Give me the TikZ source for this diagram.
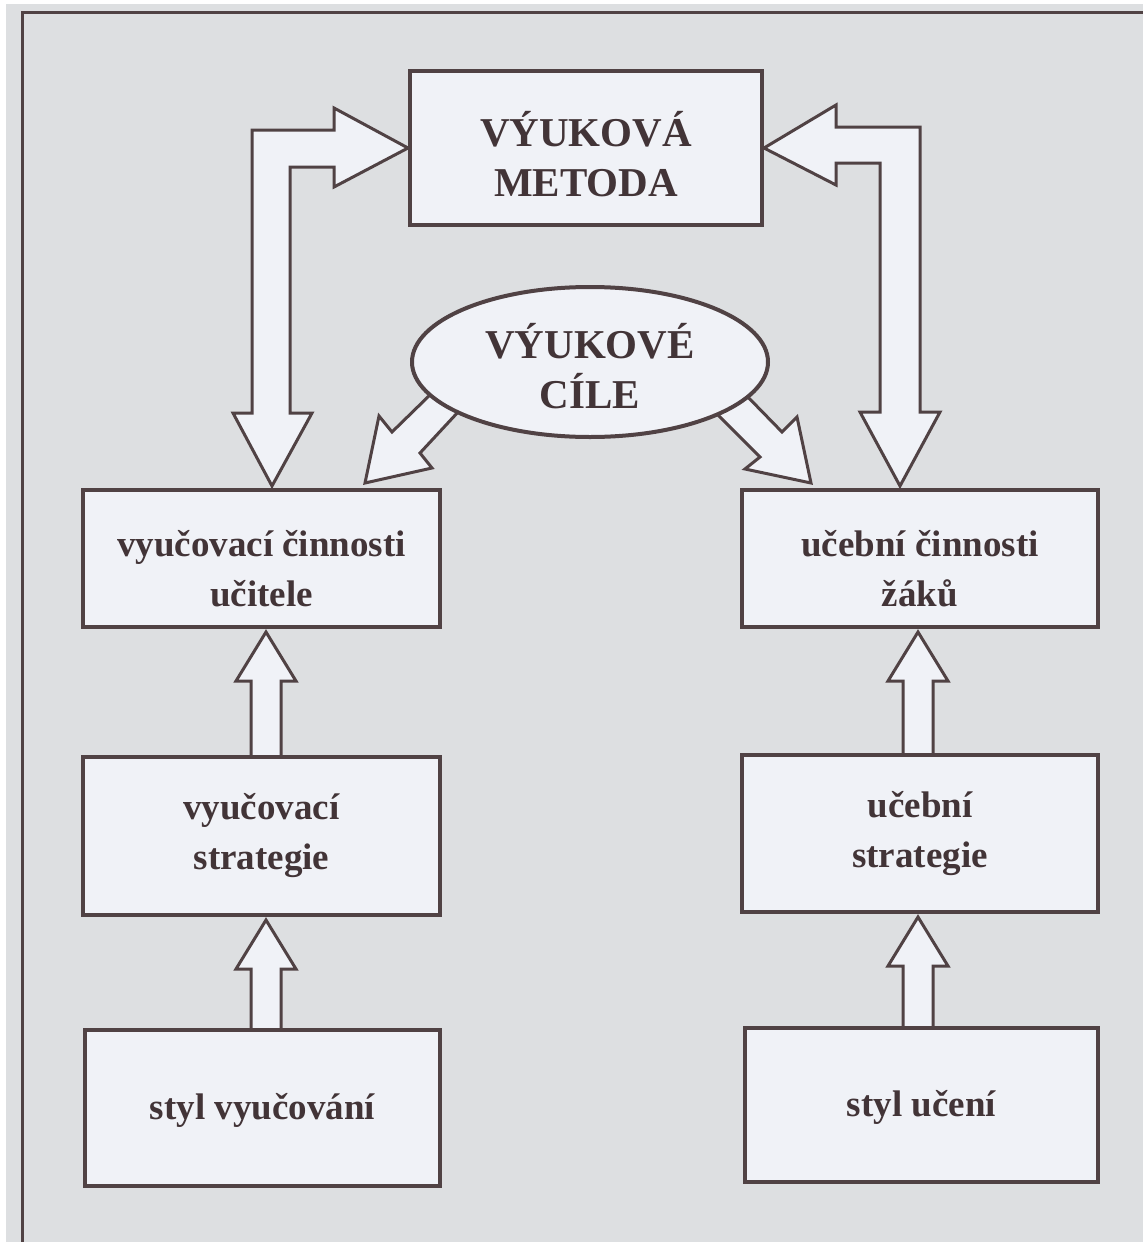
\documentclass[tikz,border=0pt]{standalone}
\usepackage{fontspec}
\setmainfont{Liberation Serif}
\usetikzlibrary{shapes.geometric,calc}
\pgfdeclarelayer{back}
\pgfdeclarelayer{arr}
\pgfsetlayers{back,arr,main}
\definecolor{bggrey}{RGB}{221,223,225}
\definecolor{boxfill}{RGB}{240,242,247}
\definecolor{ink}{RGB}{80,66,68}
\definecolor{txt}{RGB}{66,52,55}
\tikzset{
  box/.style={draw=ink, line width=2pt, fill=boxfill, inner sep=0pt},
  lbl/.style={text=txt, align=center, inner sep=0pt, font=\fontsize{18.5}{25}\selectfont\bfseries},
  capslbl/.style={lbl, font=\fontsize{20.5}{25}\selectfont\bfseries},
  blockarrow/.style={draw=ink, line width=1.5pt, fill=boxfill, line join=miter},
}
\newcommand\blockup[3]{%
  \draw[blockarrow] ($(#2.north -| #1)+(-15,0)$) -- ($(#3.south -| #1)+(-15,52)$)
    -- ($(#3.south -| #1)+(-30,52)$) -- ($(#3.south -| #1)+(0,3)$)
    -- ($(#3.south -| #1)+(30,52)$) -- ($(#3.south -| #1)+(15,52)$)
    -- ($(#2.north -| #1)+(15,0)$);
}
\begin{document}
\begin{tikzpicture}[x=0.5pt,y=-0.5pt]
\useasboundingbox (0,0) rectangle (1143,1242);
\begin{pgfonlayer}{back}
  \fill[white] (0,0) rectangle (1143,1242);
  \fill[bggrey] (6,4) rectangle (1143,1242);
  \draw[ink, line width=1.5pt] (22,1242) -- (22,12) -- (1143,12);
\end{pgfonlayer}

% boxes
\node[box, minimum width=176pt, minimum height=77pt] (meth) at (586,148) {};
\node[box, ellipse, minimum width=178pt, minimum height=75pt] (goal) at (590,362) {};

\node[box, minimum width=178.5pt, minimum height=68.5pt] (t1) at (261.5,558.5) {};
\node[box, minimum width=178.5pt, minimum height=79pt] (t2) at (261.5,836) {};
\node[box, minimum width=177.5pt, minimum height=78pt] (t3) at (262.5,1108) {};

\node[box, minimum width=178pt, minimum height=68.5pt] (s1) at (920,558.5) {};
\node[box, minimum width=178pt, minimum height=78.5pt] (s2) at (920,833.5) {};
\node[box, minimum width=176.5pt, minimum height=77pt] (s3) at (921.5,1105) {};

% texts
\node[capslbl] (methT) at ($(meth)+(0,6)$) {VÝUKOVÁ\\METODA};
\node[capslbl] (goalT) at ($(goal)+(0,4)$) {VÝUKOVÉ\\CÍLE};
\node[lbl] (t1T) at ($(t1)+(0,10)$) {vyučovací činnosti\\učitele};
\node[lbl] (t2T) at ($(t2)+(0,0)$) {vyučovací\\strategie};
\node[lbl] (t3T) at ($(t3)+(0,2)$) {styl vyučování};
\node[lbl] (s1T) at ($(s1)+(0,10)$) {učební činnosti\\žáků};
\node[lbl] (s2T) at ($(s2)+(0,0)$) {učební\\strategie};
\node[lbl] (s3T) at ($(s3)+(0,2)$) {styl učení};

\coordinate (lx) at (266,0);
\coordinate (rx) at (918,0);
\coordinate (lb) at (272,0);
\coordinate (rb) at (900,0);

\begin{pgfonlayer}{arr}
  % bent double arrows
  \draw[blockarrow] (meth.west) -- (334,108) -- (334,130) -- (252,130) -- (252,413)
    -- (233,413) -- ($(t1.north -| lb)+(0,-2)$) -- (312,413) -- (290,413) -- (290,167)
    -- (334,167) -- (334,187) -- cycle;
  \draw[blockarrow] (meth.east) -- (836,105) -- (836,127) -- (920,127) -- (920,412)
    -- (940,412) -- ($(s1.north -| rb)+(0,-2)$) -- (860,412) -- (880,412) -- (880,163)
    -- (836,163) -- (836,185) -- cycle;
  % diagonal arrows from the ellipse
  \draw[blockarrow] (434,391) -- (392,432) -- (379,416) -- (365,483) -- (432,468)
    -- (420,453) -- (459,411) -- cycle;
  \draw[blockarrow] (742,391) -- (782,432) -- (797,417) -- (811,483) -- (745,469)
    -- (760,457) -- (714,411) -- cycle;
  % small up arrows
  \blockup{lx}{t2}{t1}
  \blockup{lx}{t3}{t2}
  \blockup{rx}{s2}{s1}
  \blockup{rx}{s3}{s2}
\end{pgfonlayer}
\end{tikzpicture}
\end{document}
